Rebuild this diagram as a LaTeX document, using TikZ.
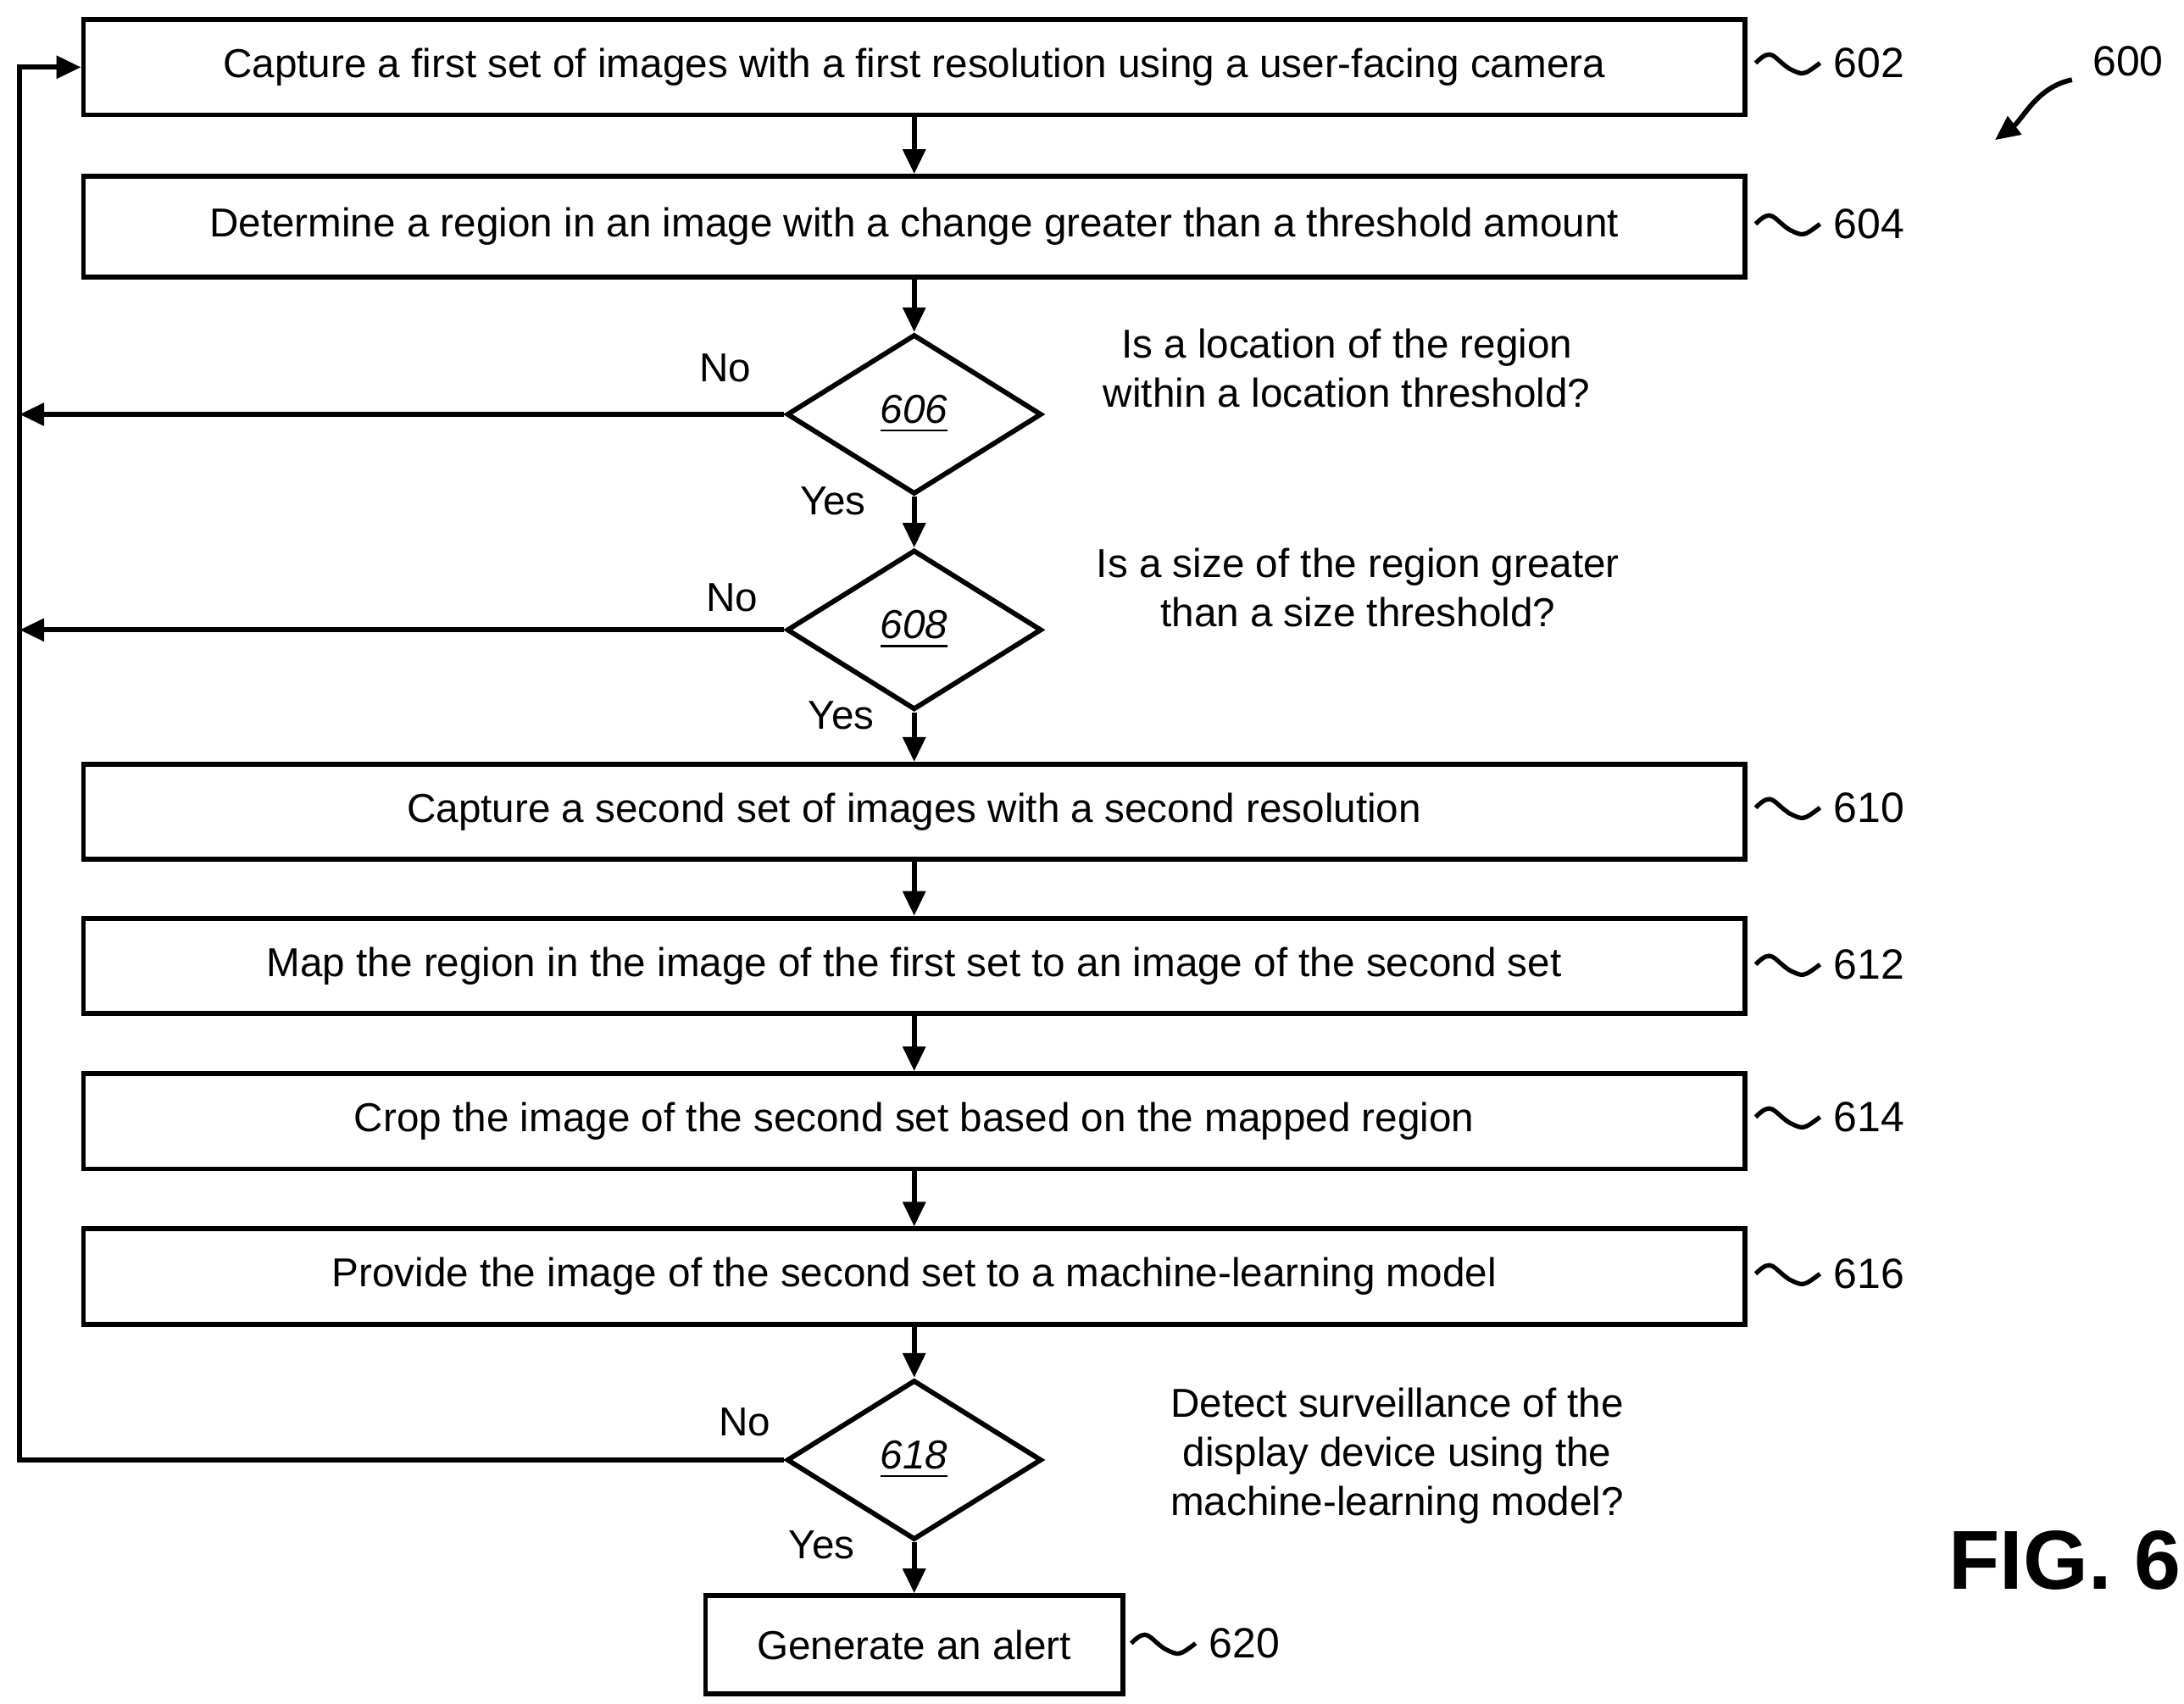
\documentclass[tikz,border=0pt]{standalone}
\usepackage{fontspec}
\setmainfont{Liberation Sans}
\usetikzlibrary{shapes.geometric,arrows.meta}
\newcommand{\squig}[3]{% anchor point, label, name
\draw[line width=0.9pt] (#1) .. controls ++(12,-12) and ++(-12,-8) .. ++(24,4) .. controls ++(10,5) .. ++(22,-4)
  node[right=-1pt,font=\fontsize{8.6}{10}\selectfont] (#3) {#2};}
\begin{document}
\begin{tikzpicture}[x=0.01cm,y=-0.01cm,line width=1pt,>={Triangle[length=5pt,width=4.5pt]},
  box/.style={draw,minimum width=11.86cm,minimum height=0.68cm,inner sep=0pt,font=\fontsize{8.2}{10}\selectfont},
  dec/.style={draw,diamond,aspect=1.6,minimum width=1.82cm,minimum height=1.14cm,inner sep=0pt,font=\fontsize{8.2}{10}\selectfont\itshape},
  lbl/.style={font=\fontsize{8.2}{10}\selectfont,align=center}]
\useasboundingbox (0,0) rectangle (1560,1217);
% steps
\node[box] (b602) at (653,48) {Capture a first set of images with a first resolution using a user-facing camera};
\node[box,minimum height=0.72cm] (b604) at (653,162) {Determine a region in an image with a change greater than a threshold amount};
\node[dec] (d606) at (653,296) {\underline{606}};
\node[dec] (d608) at (653,450) {\underline{608}};
\node[box] (b610) at (653,580) {Capture a second set of images with a second resolution};
\node[box] (b612) at (653,690) {Map the region in the image of the first set to an image of the second set};
\node[box] (b614) at (653,801) {Crop the image of the second set based on the mapped region};
\node[box] (b616) at (653,912) {Provide the image of the second set to a machine-learning model};
\node[dec] (d618) at (653,1043) {\underline{618}};
\node[box,minimum width=2.98cm,minimum height=0.7cm] (b620) at (653,1175) {Generate an alert};
% flow
\draw[->] (b602) -- (b604);
\draw[->] (b604) -- (d606);
\draw[->] (d606) -- (d608);
\draw[->] (d608) -- (b610);
\draw[->] (b610) -- (b612);
\draw[->] (b612) -- (b614);
\draw[->] (b614) -- (b616);
\draw[->] (b616) -- (d618);
\draw[->] (d618) -- (b620);
\coordinate (l606) at (14,296);
\coordinate (l608) at (14,450);
\coordinate (l618) at (14,1043);
\coordinate (l602) at (14,48);
\draw[->] (d606.west) -- (l606);
\draw[->] (d608.west) -- (l608);
\draw[->] (d618.west) -- (l618) -- (l602) -- (b602.west);
% labels
\node[lbl] at (518,263) {No};
\node[lbl] at (523,427) {No};
\node[lbl] at (532,1016) {No};
\node[lbl] at (595,358) {Yes};
\node[lbl] at (601,511) {Yes};
\node[lbl] at (587,1104) {Yes};
\node[lbl] at (962,263) {Is a location of the region\\within a location threshold?};
\node[lbl] at (970,420) {Is a size of the region greater\\than a size threshold?};
\node[lbl] at (998,1040) {Detect surveillance of the\\display device using the\\machine-learning model?};
% reference numerals
\squig{1254,45}{602}{n602}
\squig{1254,160}{604}{n604}
\squig{1254,577}{610}{n610}
\squig{1254,689}{612}{n612}
\squig{1254,798}{614}{n614}
\squig{1254,910}{616}{n616}
\squig{808,1174}{620}{n620}
\node[font=\fontsize{8.6}{10}\selectfont] (n600) at (1520,44) {600};
\coordinate (a600) at (1480,57);
\draw[->] (a600) .. controls (1455,62) and (1445,85) .. (1425,100);
\node[font=\fontsize{17}{20}\selectfont\bfseries] (fig) at (1475,1115) {FIG. 6};
\end{tikzpicture}
\end{document}
